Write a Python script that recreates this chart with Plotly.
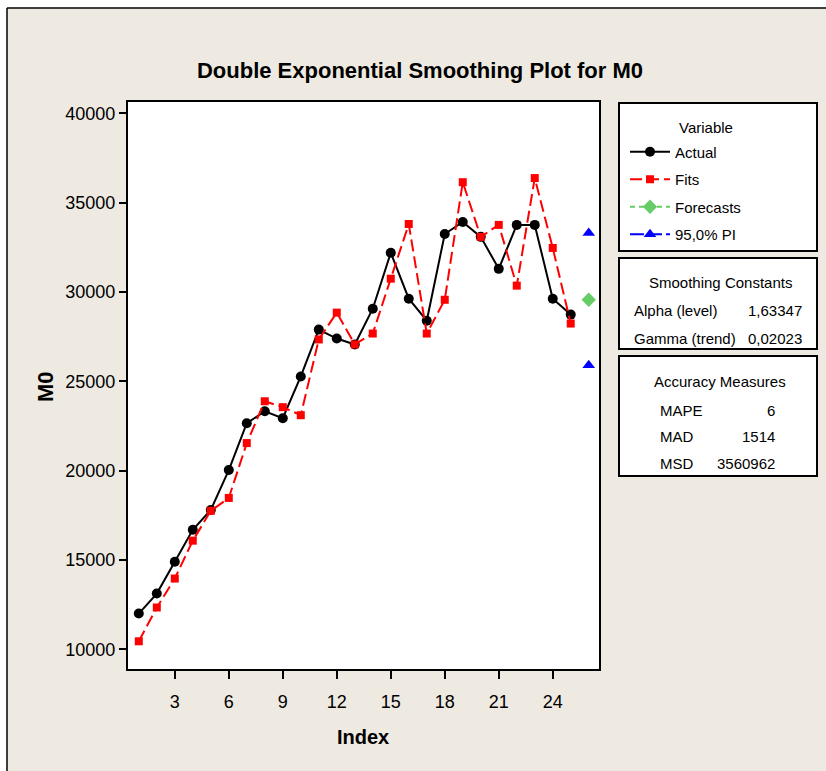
import plotly.graph_objects as go

# ---- data ----
index = list(range(1, 26))
actual = [12000, 13120, 14900, 16690, 17800, 20030, 22650, 23320, 22930, 25270,
          27890, 27390, 27060, 29060, 32190, 29620, 28390, 33240, 33910, 33080,
          31290, 33750, 33750, 29620, 28730]
fits = [10450, 12340, 13960, 16080, 17750, 18470, 21540, 23880, 23550, 23100,
        27340, 28840, 27060, 27670, 30740, 33800, 27670, 29560, 36140, 33080,
        33750, 30350, 36370, 32460, 28230]
forecast_x = [26]
forecast = [29560]
pi_upper = [33300]
pi_lower = [25890]

x_ticks = [3, 6, 9, 12, 15, 18, 21, 24]
y_ticks = [10000, 15000, 20000, 25000, 30000, 35000, 40000]

smoothing_names = ["Alpha (level)", "Gamma (trend)"]
smoothing_values = ["1,63347", "0,02023"]
accuracy_names = ["MAPE", "MAD", "MSD"]
accuracy_values = ["6", "1514", "3560962"]

# ---- layout helpers (pixel -> paper) ----
W, H = 826, 771
L, R, T, B = 128, 227, 102, 102
PW, PH = W - L - R, H - T - B


def px(x):
    return (x - L) / PW


def py(y):
    return (H - B - y) / PH


FONT = "Liberation Sans, Arial, sans-serif"
BG = "#EEEAE1"

fig = go.Figure()
fig.add_trace(go.Scatter(x=index, y=actual, name="Actual", mode="lines+markers",
                         line=dict(color="black", width=2),
                         marker=dict(symbol="circle", size=10, color="black"),
                         legendgroup="a"))
fig.add_trace(go.Scatter(x=index, y=fits, name="Fits", mode="lines+markers",
                         line=dict(color="#FF0000", width=2, dash="12px,5px"),
                         marker=dict(symbol="square", size=8, color="#FF0000"),
                         legendgroup="b"))
fig.add_trace(go.Scatter(x=forecast_x, y=forecast, name="Forecasts", mode="lines+markers",
                         line=dict(color="#66CC66", width=2, dash="5px,4px"),
                         marker=dict(symbol="diamond", size=11, color="#66CC66"),
                         legendgroup="c"))
fig.add_trace(go.Scatter(x=forecast_x, y=pi_upper, name="95,0% PI", mode="lines+markers",
                         line=dict(color="#0000FF", width=2, dash="14px,4px"),
                         marker=dict(symbol="triangle-up", size=11, color="#0000FF"),
                         legendgroup="d"))
fig.add_trace(go.Scatter(x=forecast_x, y=pi_lower, name="95,0% PI", mode="markers",
                         marker=dict(symbol="triangle-up", size=11, color="#0000FF"),
                         legendgroup="d", showlegend=False))

shapes = [
    # white strip outside the screenshot frame
    dict(type="rect", xref="paper", yref="paper", x0=px(0), x1=px(7), y0=py(0), y1=py(H),
         fillcolor="white", line=dict(width=0), layer="above"),
    dict(type="rect", xref="paper", yref="paper", x0=px(0), x1=px(W), y0=py(0), y1=py(8),
         fillcolor="white", line=dict(width=0), layer="above"),
    dict(type="line", xref="paper", yref="paper", x0=px(7), x1=px(7), y0=py(8), y1=py(H),
         line=dict(color="black", width=1.5), layer="above"),
    dict(type="line", xref="paper", yref="paper", x0=px(7), x1=px(W), y0=py(8), y1=py(8),
         line=dict(color="black", width=1.5), layer="above"),
]
for (top, bot) in [(103, 251), (258, 349), (356, 476)]:
    shapes.append(dict(type="rect", xref="paper", yref="paper",
                       x0=px(619), x1=px(817), y0=py(bot), y1=py(top),
                       fillcolor="white", line=dict(color="black", width=2), layer="above"))

ann = []


def add_text(text, x, y, anchor="left", size=15, angle=0):
    ann.append(dict(text=text, xref="paper", yref="paper", x=px(x), y=py(y),
                    xanchor=anchor, yanchor="middle", showarrow=False, textangle=angle,
                    font=dict(family=FONT, size=size, color="black")))


add_text("Variable", 677, 127, "left")
add_text("Smoothing Constants", 720, 282, "center")
for i, (n, v) in enumerate(zip(smoothing_names, smoothing_values)):
    add_text(n, 632, 310 + 28 * i, "left")
    add_text(v, 804, 310 + 28 * i, "right")
add_text("Accuracy Measures", 720, 381, "center")
for i, (n, v) in enumerate(zip(accuracy_names, accuracy_values)):
    add_text(n, 658, 410 + 26.5 * i, "left")
    add_text(v, 777, 410 + 26.5 * i, "right")
add_text("<b>Index</b>", 363, 737, "center", size=20)
add_text("<b>M0</b>", 45, 387, "center", size=22, angle=-90)

fig.update_layout(
    width=W, height=H,
    margin=dict(l=L, r=R, t=T, b=B),
    paper_bgcolor=BG, plot_bgcolor="white",
    title=dict(text="<b>Double Exponential Smoothing Plot for M0</b>",
               x=420 / W, xanchor="center", y=1 - 70 / H, yanchor="middle",
               font=dict(family=FONT, size=22, color="black")),
    showlegend=True,
    legend=dict(x=px(625), y=py(135.5), xanchor="left", yanchor="top",
                bgcolor="rgba(0,0,0,0)", borderwidth=0,
                font=dict(family=FONT, size=15, color="black"),
                tracegroupgap=5, itemwidth=40),
    shapes=shapes, annotations=ann,
    xaxis=dict(range=[0.4, 26.57], tickvals=x_ticks, ticks="outside", ticklen=8,
               tickwidth=1.5, tickcolor="black", showgrid=False, zeroline=False,
               showline=True, linecolor="black", linewidth=2, mirror=True,
               ticklabelstandoff=7,
               tickfont=dict(family=FONT, size=18, color="black")),
    yaxis=dict(range=[8898, 40627], tickvals=y_ticks, ticks="outside", ticklen=7,
               tickwidth=1.5, tickcolor="black", showgrid=False, zeroline=False,
               showline=True, linecolor="black", linewidth=2, mirror=True,
               tickformat="d",
               tickfont=dict(family=FONT, size=18, color="black")),
)

fig.write_html("out.html", config={"displayModeBar": False},
               post_script="document.body.style.margin='0';document.body.style.overflow='hidden';")
